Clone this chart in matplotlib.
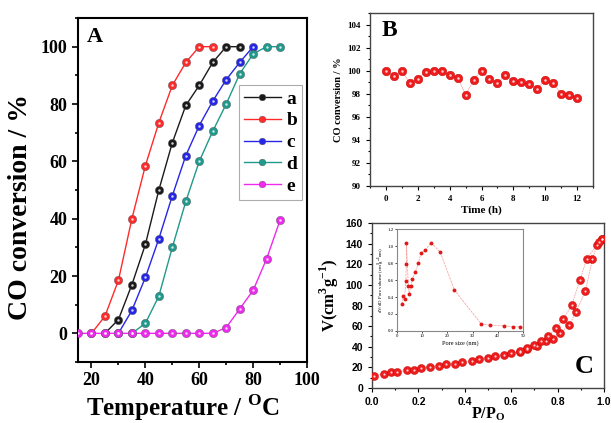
import matplotlib
matplotlib.use("Agg")
import matplotlib.pyplot as plt
from matplotlib.ticker import MultipleLocator, FormatStrFormatter

plt.rcParams['font.family'] = ['Liberation Serif', 'DejaVu Serif']
plt.rcParams['mathtext.fontset'] = 'custom'
plt.rcParams['mathtext.rm'] = 'Liberation Serif:bold'
plt.rcParams['mathtext.bf'] = 'Liberation Serif:bold'

# ---------------- Panel A data ----------------
temp_a = [25, 30, 35, 40, 45, 50, 55, 60, 65, 70, 75]
conv_a = [0, 4.8, 17, 31, 50, 66.5, 79.5, 86.5, 94.5, 100, 100]
temp_b = [20, 25, 30, 35, 40, 45, 50, 55, 60, 65]
conv_b = [0, 6, 18.5, 40, 58.5, 73.5, 86.5, 94.5, 100, 100]
temp_c = [30, 35, 40, 45, 50, 55, 60, 65, 70, 75, 80]
conv_c = [0, 8, 19.5, 33, 48, 62, 72.5, 81, 88.5, 94.5, 100]
temp_d = [35, 40, 45, 50, 55, 60, 65, 70, 75, 80, 85, 90]
conv_d = [0, 3.5, 13, 30, 46, 60, 70.5, 80, 90.5, 97.5, 100, 100]
temp_e = [15, 20, 25, 30, 35, 40, 45, 50, 55, 60, 65, 70, 75, 80, 85, 90]
conv_e = [0, 0, 0, 0, 0, 0, 0, 0, 0, 0, 0, 2, 8.5, 15, 26, 39.5]
labels_A = ['a', 'b', 'c', 'd', 'e']
colors_A = ['#1a1a1a', '#ff2a2a', '#2626e6', '#1f9a8c', '#ee2aee']

# ---------------- Panel B data ----------------
time_h = [0, 0.5, 1, 1.5, 2, 2.5, 3, 3.5, 4, 4.5, 5, 5.5, 6, 6.5, 7, 7.5,
          8, 8.5, 9, 9.5, 10, 10.5, 11, 11.5, 12]
conv_time = [100, 99.5, 100, 98.9, 99.3, 99.9, 100, 100, 99.6, 99.4, 97.9,
             99.2, 100, 99.3, 98.9, 99.6, 99.1, 99.0, 98.8, 98.4, 99.2, 98.9,
             98.0, 97.9, 97.6]

# ---------------- Panel C data ----------------
p_ads = [0.01, 0.05, 0.08, 0.11, 0.15, 0.18, 0.21, 0.25, 0.29, 0.32, 0.36,
         0.39, 0.43, 0.46, 0.50, 0.53, 0.57, 0.60, 0.64, 0.67, 0.71, 0.75,
         0.78, 0.81, 0.85, 0.88, 0.92, 0.95, 0.97, 0.99]
v_ads = [11.9, 13.8, 15.1, 16, 17, 17.7, 19.3, 20.3, 21.6, 22.9, 23.5, 24.8,
         26, 28, 29.3, 30.6, 32.2, 33.8, 35.4, 37.7, 41, 46, 48, 53, 61, 74,
         94, 125, 139, 145]
p_des = [0.99, 0.98, 0.925, 0.897, 0.861, 0.825, 0.793, 0.76, 0.73, 0.70,
         0.67, 0.64]
v_des = [145, 142, 125, 105, 80.5, 66.6, 58, 50, 46, 42, 39, 36]

pore_size = [1.9, 2.5, 3.0, 3.5, 3.7, 3.7, 4.5, 4.8, 5.5, 6.1, 7.2, 8.5, 9.5,
             11.2, 13.5, 17.1, 22.8, 33.5, 37, 42.6, 46, 48.7]
pore_vol = [0.32, 0.41, 0.38, 0.59, 0.79, 1.04, 0.53, 0.43, 0.53, 0.61, 0.69,
            0.80, 0.92, 0.95, 1.04, 0.93, 0.48, 0.08, 0.07, 0.06, 0.05, 0.05]

fig = plt.figure(figsize=(6.11, 4.23), dpi=100)

# ================= Panel A =================
axA = fig.add_axes([0.1277, 0.1442, 0.3748, 0.8132])
series = [(temp_a, conv_a), (temp_b, conv_b), (temp_c, conv_c),
          (temp_d, conv_d), (temp_e, conv_e)]
for (t, c), lab, col in zip(series, labels_A, colors_A):
    axA.plot(t, c, '-', color=col, lw=1.0, marker='o', ms=6.0,
             mfc=col, mec='#555555', mew=0.3, label=lab, zorder=3)
    axA.plot(t, c, 'o', color='white', ms=1.8, mew=0, alpha=0.8, zorder=4)
axA.set_xlim(15, 100)
axA.set_ylim(-10, 110)
axA.xaxis.set_major_locator(MultipleLocator(20))
axA.xaxis.set_minor_locator(MultipleLocator(10))
axA.yaxis.set_major_locator(MultipleLocator(20))
axA.yaxis.set_minor_locator(MultipleLocator(10))
axA.set_yticks([0, 20, 40, 60, 80, 100])
axA.tick_params(which='both', direction='out', top=False, right=False,
                width=1.2)
axA.tick_params(which='major', length=4, labelsize=13)
axA.tick_params(which='minor', length=2.5)
for lab in axA.get_xticklabels() + axA.get_yticklabels():
    lab.set_fontweight('bold')
for s in axA.spines.values():
    s.set_linewidth(1.5)
axA.set_xlabel(r'Temperature / $^{\mathrm{O}}$C', fontsize=18,
               fontweight='bold')
axA.xaxis.set_label_coords(0.46, -0.087)
axA.set_ylabel('CO conversion / %', fontsize=20, fontweight='bold')
axA.yaxis.set_label_coords(-0.195, 0.45)
axA.text(0.04, 0.975, 'A', transform=axA.transAxes, fontsize=16,
         fontweight='bold', va='top', ha='left')
leg = axA.legend(loc='upper right', bbox_to_anchor=(0.98, 0.805),
                 prop={'weight': 'bold', 'size': 14}, frameon=True,
                 fancybox=False, edgecolor='#999999', handlelength=1.9,
                 handletextpad=0.3, borderpad=0.25, labelspacing=0.22,
                 borderaxespad=0.0, markerscale=0.8)
leg.get_frame().set_linewidth(0.8)

# ================= Panel B =================
axB = fig.add_axes([0.6056, 0.5603, 0.365, 0.409])
axB.plot(time_h, conv_time, '-', color='#f7b8b8', lw=0.6, zorder=2)
axB.plot(time_h, conv_time, 'o', color='#ee1c1c', ms=6.2, mec='#c00000',
         mew=0.3, zorder=3)
axB.plot(time_h, conv_time, 'o', color='white', ms=1.8, mew=0, alpha=0.8,
         zorder=4)
axB.set_xlim(-1, 13)
axB.set_ylim(90, 105)
axB.xaxis.set_major_locator(MultipleLocator(2))
axB.xaxis.set_minor_locator(MultipleLocator(1))
axB.yaxis.set_major_locator(MultipleLocator(2))
axB.yaxis.set_minor_locator(MultipleLocator(1))
axB.set_yticks([90, 92, 94, 96, 98, 100, 102, 104])
axB.tick_params(which='both', direction='out', top=False, right=False,
                width=0.8)
axB.tick_params(which='major', length=3, labelsize=6.5)
axB.tick_params(which='minor', length=1.5)
for lab in axB.get_xticklabels() + axB.get_yticklabels():
    lab.set_fontweight('bold')
for s in axB.spines.values():
    s.set_linewidth(1.0)
    s.set_color('#444444')
axB.set_xlabel('Time (h)', fontsize=8, fontweight='bold', labelpad=2)
axB.set_ylabel('CO conversion / %', fontsize=7.5, fontweight='bold',
               labelpad=3)
axB.text(0.05, 0.96, 'B', transform=axB.transAxes, fontsize=17,
         fontweight='bold', va='top', ha='left')

# ================= Panel C =================
axC = fig.add_axes([0.6088, 0.0827, 0.3797, 0.390])
axC.plot(p_ads, v_ads, '-', color='#f5a0a0', lw=0.6, ls=(0, (2, 1)), zorder=2)
axC.plot(p_des, v_des, '-', color='#f5a0a0', lw=0.6, ls=(0, (2, 1)), zorder=2)
axC.plot(p_ads, v_ads, 'o', color='#ee1c1c', ms=5.8, mec='#c00000', mew=0.3,
         zorder=3)
axC.plot(p_des, v_des, 'o', color='#ee1c1c', ms=5.8, mec='#c00000', mew=0.3,
         zorder=3)
axC.plot(p_ads, v_ads, 'o', color='white', ms=1.6, mew=0, alpha=0.8, zorder=4)
axC.plot(p_des, v_des, 'o', color='white', ms=1.6, mew=0, alpha=0.8, zorder=4)
axC.set_xlim(0, 1.0)
axC.set_ylim(0, 160)
axC.xaxis.set_major_locator(MultipleLocator(0.2))
axC.xaxis.set_minor_locator(MultipleLocator(0.1))
axC.xaxis.set_major_formatter(FormatStrFormatter('%.1f'))
axC.yaxis.set_major_locator(MultipleLocator(20))
axC.yaxis.set_minor_locator(MultipleLocator(10))
axC.tick_params(which='both', direction='out', top=False, right=False,
                width=0.8)
axC.tick_params(which='major', length=3, labelsize=7.5)
axC.tick_params(which='minor', length=1.5)
for lab in axC.get_xticklabels() + axC.get_yticklabels():
    lab.set_fontweight('bold')
    lab.set_family(['Liberation Sans', 'DejaVu Sans'])
for s in axC.spines.values():
    s.set_linewidth(1.0)
    s.set_color('#444444')
axC.set_xlabel(r'P/P$_{\mathrm{O}}$', fontsize=11.5, fontweight='bold',
               labelpad=-1)
axC.set_ylabel(r'V(cm$^{3}$g$^{-1}$)', fontsize=12, fontweight='bold')
axC.yaxis.set_label_coords(-0.135, 0.56)
axC.text(0.955, 0.06, 'C', transform=axC.transAxes, fontsize=19,
         fontweight='bold', va='bottom', ha='right')

# ---------------- inset ----------------
axI = fig.add_axes([0.6498, 0.2175, 0.2062, 0.2411])
axI.plot(pore_size, pore_vol, '-', color='#f7a8a8', lw=0.6, ls=(0, (3, 1)),
         zorder=2)
axI.plot(pore_size, pore_vol, 'o', color='#e01818', ms=2.8, mew=0, zorder=3)
axI.set_xlim(0, 50)
axI.set_ylim(0, 1.2)
axI.xaxis.set_major_locator(MultipleLocator(10))
axI.yaxis.set_major_locator(MultipleLocator(0.2))
axI.yaxis.set_major_formatter(FormatStrFormatter('%.1f'))
axI.tick_params(which='both', direction='out', top=False, right=False,
                width=0.5, length=1.5, labelsize=3.5, pad=1)
for s in axI.spines.values():
    s.set_linewidth(0.8)
    s.set_color('#888888')
axI.set_xlabel('Pore size (nm)', fontsize=4.5, labelpad=1)
axI.set_ylabel(r'dV/dD Pore volume (cm$^3$g$^{-1}$nm)', fontsize=3.5,
               labelpad=1)

fig.savefig('out.png', dpi=100)
